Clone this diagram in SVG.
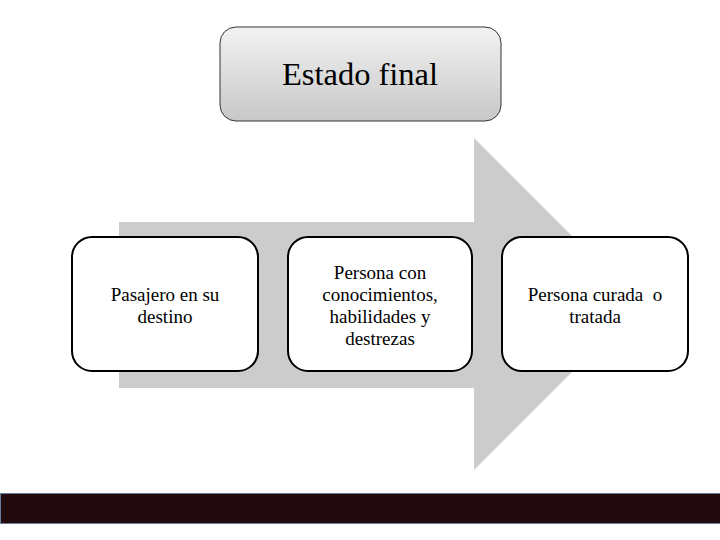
<svg xmlns="http://www.w3.org/2000/svg" width="720" height="540" viewBox="0 0 720 540">
<style>
.box{fill:#fff;stroke:#000;stroke-width:2}
.t{font-family:"Liberation Serif",serif;font-size:19px;fill:#000;text-anchor:middle}
</style>
<defs>
<linearGradient id="g" x1="0" y1="0" x2="0" y2="1"><stop offset="0" stop-color="#f2f2f2"/><stop offset="1" stop-color="#c8c8c8"/></linearGradient>
</defs>
<rect width="720" height="540" fill="#fff"/>
<g id="connectors">
<polygon points="119,222 474,222 474,138 640,304 474,470 474,388 119,388" fill="#cccccc"/>
</g>
<g id="n0"><rect x="220" y="27" width="281" height="94" rx="16" fill="url(#g)" stroke="#333" stroke-width="1"/>
<text class="t" x="360" y="85" style="font-size:32.5px">Estado final</text></g>
<g id="n1"><rect class="box" x="72" y="237" width="186" height="134" rx="20"/>
<text class="t" x="165" y="301">Pasajero en su</text><text class="t" x="165" y="323">destino</text></g>
<g id="n2"><rect class="box" x="288" y="237" width="184" height="134" rx="20"/>
<text class="t" x="380" y="279">Persona con</text><text class="t" x="380" y="301">conocimientos,</text><text class="t" x="380" y="323">habilidades y</text><text class="t" x="380" y="345">destrezas</text></g>
<g id="n3"><rect class="box" x="502" y="237" width="186" height="134" rx="20"/>
<text class="t" x="595" y="301" xml:space="preserve">Persona curada  o</text><text class="t" x="595" y="323">tratada</text></g>
<rect x="0.5" y="493.5" width="721" height="30" fill="#220a0e" stroke="#6a7f99" stroke-width="1"/>
</svg>
